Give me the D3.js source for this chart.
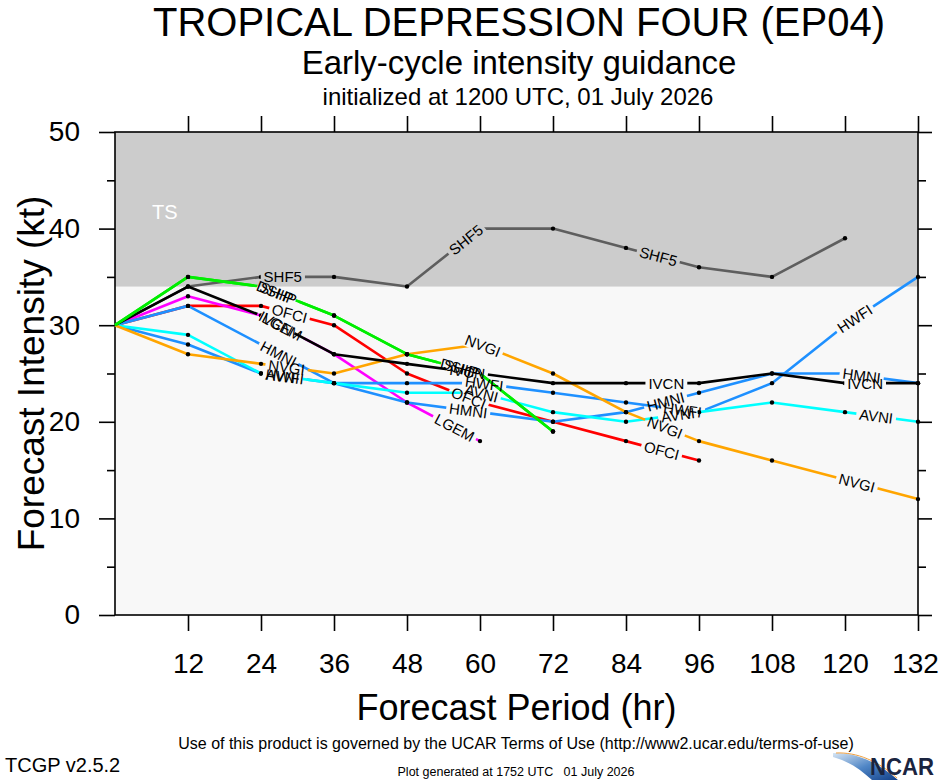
<!DOCTYPE html>
<html>
<head>
<meta charset="utf-8">
<script src="https://cdn.jsdelivr.net/npm/d3@7"></script>
<style>
body { margin: 0; background: #fff; }
svg text { font-family: "Liberation Sans", Arial, Helvetica, sans-serif; }
</style>
</head>
<body>
<div id="chart"></div>
<script>
// forecast hours and model intensities (kt)
var hours = [0, 12, 24, 36, 48, 60, 72, 84, 96, 108, 120, 132];
var shf5Vals = [30, 34, 35, 35, 34, 40, 40, 38, 36, 35, 39];
var ofciVals = [30, 32, 32, 30, 25, 22, 20, 18, 16];
var lgemVals = [30, 33, 31, 27, 22, 18];
var hmniVals = [30, 32, 28, 24, 22, 21, 20, 21, 23, 25, 25, 24];
var hwfiVals = [30, 28, 25, 24, 24, 24, 23, 22, 21, 24, 30, 35];
var avniVals = [30, 29, 25, 24, 23, 23, 21, 20, 21, 22, 21, 20];
var nvgiVals = [30, 27, 26, 25, 27, 28, 25, 21, 18, 16, 14, 12];
var ivcnVals = [30, 34, 31, 27, 26, 25, 24, 24, 24, 25, 24, 24];
var shipVals = [30, 35, 34, 31, 27, 25, 19];
var dshpVals = [30, 35, 34, 31, 27, 25, 19];

var modelNames = ["SHF5", "OFCI", "LGEM", "HMNI", "HWFI", "AVNI", "NVGI", "IVCN", "SHIP", "DSHP"];
var modelVals = [shf5Vals, ofciVals, lgemVals, hmniVals, hwfiVals, avniVals, nvgiVals, ivcnVals, shipVals, dshpVals];

var xTicks = [12, 24, 36, 48, 60, 72, 84, 96, 108, 120, 132];
var yTicks = [0, 10, 20, 30, 40, 50];
var yMinorTicks = [5, 15, 25, 35, 45];
var tsThreshold = 34;

var colors = {
  SHF5: "#5e5e5e", OFCI: "#ff0000", LGEM: "#ff00ff", HMNI: "#1e90ff",
  HWFI: "#1e90ff", AVNI: "#00ffff", NVGI: "#ffa500", IVCN: "#000000",
  SHIP: "#00ee00", DSHP: "#00ee00"
};

var svgWidth = 940;
var svgHeight = 780;
var plot = { left: 115, right: 918, top: 132, bottom: 615 };

var svg = d3.select("#chart")
  .append("svg")
  .attr("width", svgWidth)
  .attr("height", svgHeight);

var x = d3.scaleLinear().domain([0, 132]).range([plot.left, plot.right]);
var y = d3.scaleLinear().domain([0, 50]).range([plot.bottom, plot.top]);

// background + TS band
svg.append("rect")
  .attr("x", plot.left).attr("y", plot.top)
  .attr("width", plot.right - plot.left).attr("height", plot.bottom - plot.top)
  .attr("fill", "#f8f8f8");
svg.append("rect")
  .attr("x", plot.left).attr("y", y(50))
  .attr("width", plot.right - plot.left).attr("height", y(tsThreshold) - y(50))
  .attr("fill", "#cccccc");
svg.append("text")
  .attr("x", 152).attr("y", 219)
  .attr("font-size", "20px").attr("fill", "#fff")
  .text("TS");

// axes
var leftAxis = d3.axisLeft(y).tickValues(yTicks).tickSize(16).tickPadding(19);
var leftMinor = d3.axisLeft(y).tickValues(yMinorTicks).tickSize(8).tickFormat("");
var rightAxis = d3.axisRight(y).tickValues(yTicks).tickSize(14).tickFormat("");
var rightMinor = d3.axisRight(y).tickValues(yMinorTicks).tickSize(8).tickFormat("");
var bottomAxis = d3.axisBottom(x).tickValues(xTicks).tickSize(16).tickPadding(22);
var topAxis = d3.axisTop(x).tickValues(xTicks).tickSize(16).tickFormat("");

function addAxis(axis, tx, ty) {
  var g = svg.append("g")
    .attr("transform", `translate(${tx}, ${ty})`)
    .call(axis);
  g.select(".domain").remove();
  g.selectAll("line").attr("stroke", "#000").attr("stroke-width", 1.6);
  g.selectAll("text").attr("font-size", "28px").attr("fill", "#000")
    .style("font-family", "'Liberation Sans', Arial, sans-serif");
  return g;
}
addAxis(leftAxis, plot.left, 0);
addAxis(leftMinor, plot.left, 0);
addAxis(rightAxis, plot.right, 0);
addAxis(rightMinor, plot.right, 0);
var xAxisG = addAxis(bottomAxis, 0, plot.bottom);
addAxis(topAxis, 0, plot.top);
// last label sits on the right edge of the page
xAxisG.selectAll("text").filter(d => d === 132).attr("dx", "-3");

svg.append("rect")
  .attr("x", plot.left).attr("y", plot.top)
  .attr("width", plot.right - plot.left).attr("height", plot.bottom - plot.top)
  .attr("fill", "none").attr("stroke", "#000").attr("stroke-width", 1.6);

// model lines, with gaps where the labels go
var defs = svg.append("defs");
var line = d3.line().x(d => x(d.h)).y(d => y(d.v));
var labelStart = 178;
var labelStep = 200;

var models = modelNames.map(function(name, k) {
  var pts = modelVals[k].map((v, i) => ({ h: hours[i], v: v }));
  var px = pts.map(d => [x(d.h), y(d.v)]);
  var cum = [0];
  for (var i = 1; i < px.length; i++) {
    cum.push(cum[i - 1] + Math.hypot(px[i][0] - px[i - 1][0], px[i][1] - px[i - 1][1]));
  }
  var labels = [];
  for (var s = labelStart; s < cum[cum.length - 1]; s += labelStep) {
    var j = 0;
    while (cum[j + 1] < s) j++;
    var f = (s - cum[j]) / (cum[j + 1] - cum[j]);
    labels.push({
      x: px[j][0] + f * (px[j + 1][0] - px[j][0]),
      y: px[j][1] + f * (px[j + 1][1] - px[j][1]),
      angle: Math.atan2(px[j + 1][1] - px[j][1], px[j + 1][0] - px[j][0]) * 180 / Math.PI
    });
  }
  return { name: name, pts: pts, labels: labels };
});

models.forEach(function(m) {
  var mask = defs.append("mask")
    .attr("id", "gap-" + m.name)
    .attr("maskUnits", "userSpaceOnUse")
    .attr("x", 0).attr("y", 0).attr("width", svgWidth).attr("height", svgHeight);
  mask.append("rect")
    .attr("width", svgWidth).attr("height", svgHeight).attr("fill", "#fff");
  m.mask = mask;

  svg.append("path")
    .datum(m.pts)
    .attr("d", line)
    .attr("fill", "none")
    .attr("stroke", colors[m.name])
    .attr("stroke-width", 2.6)
    .attr("stroke-linejoin", "round")
    .attr("mask", `url(#gap-${m.name})`);
});

models.forEach(function(m) {
  svg.selectAll(null)
    .data(m.pts.slice(1))
    .enter()
    .append("circle")
    .attr("cx", d => x(d.h))
    .attr("cy", d => y(d.v))
    .attr("r", 2.2)
    .attr("fill", "#000")
    .attr("mask", `url(#gap-${m.name})`);
});

models.forEach(function(m) {
  m.labels.forEach(function(l) {
    var t = svg.append("text")
      .attr("transform", `translate(${l.x}, ${l.y}) rotate(${l.angle})`)
      .attr("text-anchor", "middle")
      .attr("dy", "0.36em")
      .attr("font-size", "15px")
      .attr("fill", "#000")
      .text(m.name);
    var w = t.node().getComputedTextLength() + 6;
    m.mask.append("rect")
      .attr("x", -w / 2).attr("y", -7)
      .attr("width", w).attr("height", 14)
      .attr("fill", "#000")
      .attr("transform", `translate(${l.x}, ${l.y}) rotate(${l.angle})`);
  });
});

// titles
svg.append("text")
  .attr("x", 519).attr("y", 36)
  .attr("text-anchor", "middle").attr("font-size", "40px")
  .text("TROPICAL DEPRESSION FOUR (EP04)");
svg.append("text")
  .attr("x", 519).attr("y", 74)
  .attr("text-anchor", "middle").attr("font-size", "33px")
  .text("Early-cycle intensity guidance");
svg.append("text")
  .attr("x", 518).attr("y", 105)
  .attr("text-anchor", "middle").attr("font-size", "24px")
  .text("initialized at 1200 UTC, 01 July 2026");

svg.append("text")
  .attr("transform", `translate(44, ${(plot.top + plot.bottom) / 2}) rotate(-90)`)
  .attr("text-anchor", "middle").attr("font-size", "37px")
  .text("Forecast Intensity (kt)");
svg.append("text")
  .attr("x", (plot.left + plot.right) / 2).attr("y", 720)
  .attr("text-anchor", "middle").attr("font-size", "36px")
  .text("Forecast Period (hr)");

// footer
svg.append("text")
  .attr("x", 516).attr("y", 749)
  .attr("text-anchor", "middle").attr("font-size", "16px")
  .text("Use of this product is governed by the UCAR Terms of Use (http://www2.ucar.edu/terms-of-use)");
svg.append("text")
  .attr("x", 516).attr("y", 776)
  .attr("text-anchor", "middle").attr("font-size", "12.5px")
  .style("white-space", "pre")
  .text("Plot generated at 1752 UTC   01 July 2026");
svg.append("text")
  .attr("x", 5).attr("y", 772)
  .attr("font-size", "20px")
  .text("TCGP v2.5.2");

// NCAR logo
var grad = defs.append("linearGradient")
  .attr("id", "swoosh").attr("x1", "0").attr("y1", "0").attr("x2", "1").attr("y2", "1");
grad.append("stop").attr("offset", "0").attr("stop-color", "#d8e6f4");
grad.append("stop").attr("offset", "0.5").attr("stop-color", "#4f86c6");
grad.append("stop").attr("offset", "1").attr("stop-color", "#123f88");
svg.append("path")
  .attr("d", "M833,753 C855,752 878,762 898,780 L872,780 C860,769 848,761 833,757 Z")
  .attr("fill", "url(#swoosh)");
svg.append("path")
  .attr("d", "M836,753 C857,752 878,761 897,778")
  .attr("fill", "none").attr("stroke", "#f0a040").attr("stroke-width", 1);
svg.append("text")
  .attr("x", 870).attr("y", 775)
  .attr("font-size", "24px").attr("font-weight", "bold")
  .attr("fill", "#1a2440")
  .attr("textLength", 64)
  .attr("lengthAdjust", "spacingAndGlyphs")
  .text("NCAR");
</script>
</body>
</html>
